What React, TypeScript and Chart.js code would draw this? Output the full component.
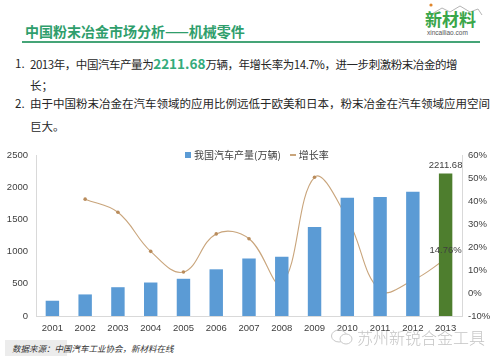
import React, { useEffect, useRef } from "react";
import { Chart, registerables } from "chart.js";

Chart.register(...registerables);

const years = ["2001", "2002", "2003", "2004", "2005", "2006", "2007", "2008", "2009", "2010", "2011", "2012", "2013"];
const production = [237, 335, 447, 520, 578, 725, 893, 920, 1383, 1835, 1846, 1930, 2211.68];
const growth = [null, 40.8, 35.1, 18.1, 9.1, 25.7, 23.6, 4.2, 50.3, 32.4, 1.1, 5.5, 14.76];
const leftAxis = { min: 0, max: 2500, step: 500 };
const rightAxis = { min: -10, max: 60, step: 10 };
const seriesNames = ["我国汽车产量(万辆)", "增长率"];

const BLUE = "#5b9bd5";
const GREEN = "#4e7e2e";
const TAN = "#c9a57c";
const AXIS = "#d9d9d9";
const TICK = "#404040";
const NUM_FONT = '"Liberation Sans", Arial, sans-serif';
const CJK = '"Noto Sans CJK SC", "Noto Sans", sans-serif';

const labelPlugin = {
  id: "valueLabels",
  afterDatasetsDraw(chart: any) {
    const ctx = chart.ctx;
    const i = years.length - 1;
    const bar = chart.getDatasetMeta(0).data[i];
    const pt = chart.getDatasetMeta(1).data[i];
    ctx.save();
    ctx.font = `9.5px ${NUM_FONT}`;
    ctx.fillStyle = TICK;
    ctx.textAlign = "center";
    ctx.textBaseline = "bottom";
    ctx.fillText(String(production[i]), bar.x, bar.y - 3);
    const g = growth[i] as number;
    ctx.fillText(g.toFixed(2) + "%", pt.x, pt.y - 4);
    ctx.restore();
  },
};

function ChartBox() {
  const ref = useRef<HTMLCanvasElement>(null);
  useEffect(() => {
    if (!ref.current) return;
    const last = years.length - 1;
    const chart = new Chart(ref.current, {
      type: "bar",
      data: {
        labels: years,
        datasets: [
          {
            type: "bar",
            label: seriesNames[0],
            data: production,
            backgroundColor: production.map((_, i) => (i === last ? GREEN : BLUE)),
            barPercentage: 0.41,
            categoryPercentage: 1,
            yAxisID: "y",
            order: 1,
          },
          {
            type: "line",
            label: seriesNames[1],
            data: growth as any,
            borderColor: TAN,
            borderWidth: 1.1,
            backgroundColor: "#b98c5c",
            pointRadius: 1.8,
            pointBorderWidth: 0,
            tension: 0.4,
            yAxisID: "y1",
            order: 2,
          },
        ],
      },
      options: {
        responsive: false,
        animation: false,
        layout: { padding: { top: 15, bottom: 0, left: 0, right: 0 } },
        plugins: { legend: { display: false }, tooltip: { enabled: false } },
        scales: {
          x: {
            grid: { display: false, drawTicks: false },
            border: { display: true, color: AXIS },
            ticks: { color: TICK, font: { family: NUM_FONT, size: 9.5 }, padding: 7 },
            afterFit: (s: any) => {
              s.height = 24;
            },
          },
          y: {
            position: "left",
            min: leftAxis.min,
            max: leftAxis.max,
            grid: { display: false, drawTicks: false },
            border: { display: true, color: AXIS },
            ticks: {
              stepSize: leftAxis.step,
              color: TICK,
              font: { family: NUM_FONT, size: 9.5 },
              padding: 8,
              callback: (v: any) => String(v),
            },
            afterFit: (s: any) => {
              s.width = 36;
            },
          },
          y1: {
            position: "right",
            min: rightAxis.min,
            max: rightAxis.max,
            grid: { display: false, drawTicks: false },
            border: { display: true, color: AXIS },
            ticks: {
              stepSize: rightAxis.step,
              color: TICK,
              font: { family: NUM_FONT, size: 9.5 },
              padding: 6,
              callback: (v: any) => v + "%",
            },
            afterFit: (s: any) => {
              s.width = 38;
            },
          },
        },
      },
      plugins: [labelPlugin],
    } as any);
    return () => chart.destroy();
  }, []);
  return <canvas ref={ref} width={500} height={200} style={{ display: "block" }} />;
}

const textLine: React.CSSProperties = {
  position: "absolute",
  whiteSpace: "nowrap",
  fontFamily: CJK,
  fontSize: "11.5px",
  lineHeight: "16px",
  color: "#262626",
};

export default function App() {
  return (
    <div
      style={{
        position: "absolute",
        left: 0,
        top: 0,
        width: 500,
        height: 360,
        background: "#ffffff",
        overflow: "hidden",
        fontFamily: CJK,
      }}
    >
      {/* Title */}
      <div
        style={{
          position: "absolute",
          left: 25,
          top: 22,
          fontSize: "14px",
          lineHeight: "18px",
          fontWeight: 700,
          color: "#2f9e6c",
          whiteSpace: "nowrap",
        }}
      >
        中国粉末冶金市场分析——机械零件
      </div>
      <div style={{ position: "absolute", left: 22, top: 41, width: 458, height: 2, background: "#45a477" }} />

      {/* Logo */}
      <svg style={{ position: "absolute", left: 424, top: 2 }} width={60} height={14}>
        <circle cx={7} cy={3} r={1.6} fill="#e0862c" />
        <polyline points="6,13 18,6 26,10 36,4 46,10 54,7 58,13" fill="none" stroke="#b5b5b5" strokeWidth={1} />
      </svg>
      <div
        style={{
          position: "absolute",
          left: 425,
          top: 9,
          fontSize: "17px",
          lineHeight: "20px",
          fontWeight: 700,
          color: "#3aa64a",
          whiteSpace: "nowrap",
        }}
      >
        新材料
      </div>
      <div
        style={{
          position: "absolute",
          left: 427,
          top: 29,
          fontSize: "6.5px",
          lineHeight: "8px",
          color: "#555",
          fontFamily: NUM_FONT,
          whiteSpace: "nowrap",
        }}
      >
        xincailiao.com
      </div>

      {/* Bullets */}
      <div style={{ ...textLine, left: 15, top: 55 }}>1.</div>
      <div style={{ ...textLine, left: 30, top: 55, letterSpacing: "-0.45px" }}>
        2013年，中国汽车产量为
        <span style={{ fontSize: "13.5px", fontWeight: 700, color: "#34ab7c", letterSpacing: "0px" }}>2211.68</span>
        万辆，年增长率为14.7%，进一步刺激粉末冶金的增
      </div>
      <div style={{ ...textLine, left: 30, top: 77 }}>长；</div>
      <div style={{ ...textLine, left: 15, top: 95 }}>2.</div>
      <div style={{ ...textLine, left: 30, top: 95 }}>
        由于中国粉末冶金在汽车领域的应用比例远低于欧美和日本，粉末冶金在汽车领域应用空间
      </div>
      <div style={{ ...textLine, left: 30, top: 118 }}>巨大。</div>

      {/* Chart */}
      <div style={{ position: "absolute", left: 0, top: 140, width: 500, height: 200 }}>
        <ChartBox />
      </div>

      {/* Legend */}
      <div
        style={{
          position: "absolute",
          left: 185,
          top: 148,
          fontSize: "10px",
          lineHeight: "14px",
          color: "#404040",
          whiteSpace: "nowrap",
          display: "flex",
          alignItems: "center",
        }}
      >
        <span style={{ display: "inline-block", width: 6, height: 6, background: BLUE, marginRight: 3 }} />
        <span>{seriesNames[0]}</span>
        <span style={{ display: "inline-block", width: 6, height: 1.5, background: TAN, marginLeft: 9, marginRight: 3 }} />
        <span>{seriesNames[1]}</span>
      </div>

      {/* Source */}
      <div style={{ position: "absolute", left: 5, top: 340, width: 62, height: 16, background: "#ececec" }} />
      <div
        style={{
          position: "absolute",
          left: 12,
          top: 341,
          fontSize: "8.5px",
          lineHeight: "14px",
          fontStyle: "italic",
          color: "#333",
          whiteSpace: "nowrap",
        }}
      >
        数据来源：中国汽车工业协会，新材料在线
      </div>

      {/* Bottom watermark */}
      <svg style={{ position: "absolute", left: 330, top: 328 }} width={24} height={18}>
        <ellipse cx={9} cy={8} rx={7.5} ry={6} fill="none" stroke="#c8c8c8" strokeWidth={1} />
        <ellipse cx={16} cy={11} rx={6} ry={5} fill="#fff" stroke="#c8c8c8" strokeWidth={1} />
      </svg>
      <div
        style={{
          position: "absolute",
          left: 357,
          top: 327,
          fontSize: "16px",
          lineHeight: "20px",
          color: "#c4c4c4",
          whiteSpace: "nowrap",
          fontWeight: 300,
        }}
      >
        苏州新锐合金工具
      </div>
    </div>
  );
}
